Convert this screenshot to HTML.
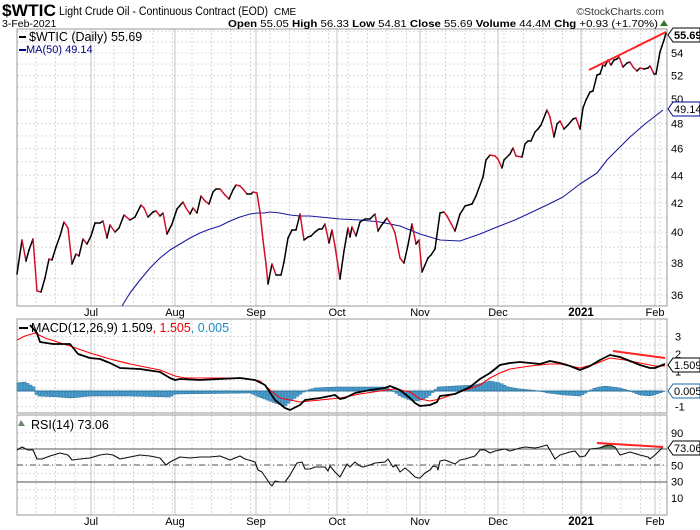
<!DOCTYPE html>
<html><head><meta charset="utf-8"><style>
html,body{margin:0;padding:0;background:#fff;}
svg{display:block;font-family:"Liberation Sans",sans-serif;}
</style></head><body>
<svg id="s" width="700" height="530" viewBox="0 0 700 530" xmlns="http://www.w3.org/2000/svg">
<rect width="700" height="530" fill="#fff"/>
<g id="grid"></g>
<!-- header -->
<text x="2" y="16" font-size="17" font-weight="bold" textLength="54" lengthAdjust="spacingAndGlyphs">$WTIC</text>
<text x="59" y="15" font-size="11.5" textLength="209" lengthAdjust="spacingAndGlyphs">Light Crude Oil - Continuous Contract (EOD)</text>
<text x="274" y="15" font-size="10">CME</text>
<text x="664" y="15" font-size="10.5" text-anchor="end" fill="#333">©StockCharts.com</text>
<text x="2" y="27" font-size="10.5">3-Feb-2021</text>
<text x="228" y="27" font-size="10.5" textLength="430" lengthAdjust="spacingAndGlyphs"><tspan font-weight="bold">Open</tspan> 55.05 <tspan font-weight="bold">High</tspan> 56.33 <tspan font-weight="bold">Low</tspan> 54.81 <tspan font-weight="bold">Close</tspan> 55.69 <tspan font-weight="bold">Volume</tspan> 44.4M <tspan font-weight="bold">Chg</tspan> +0.93 (+1.70%)</text>
<polygon points="660,26 664,20 668,26" fill="#2a7a2a"/>
<g id="plots"></g>
<!-- legends -->
<rect x="19" y="36" width="7" height="2" fill="#000"/>
<text x="29" y="41" font-size="12.5">$WTIC (Daily) 55.69</text>
<rect x="19" y="49" width="7" height="2" fill="#00008b"/>
<text x="26" y="53" font-size="11" fill="#00008b">MA(50) 49.14</text>
<rect x="19" y="327" width="9" height="2" fill="#000"/>
<text x="31" y="332" font-size="12.5">MACD(12,26,9) 1.509<tspan fill="#e00">, 1.505</tspan><tspan fill="#1a8ac8">, 0.005</tspan></text>
<polygon points="18,426 21,420 25,426" fill="#6a8a6a"/>
<text x="31" y="429" font-size="12.5">RSI(14) 73.06</text>
</svg>
<script>
const NS="http://www.w3.org/2000/svg";
const g=document.getElementById('grid'),p=document.getElementById('plots');
function el(par,t,a,txt){const e=document.createElementNS(NS,t);for(const k in a)e.setAttribute(k,a[k]);if(txt!=null)e.textContent=txt;par.appendChild(e);return e;}
const L=17,R=667;
const panels=[[29,306],[319,413],[415,515]];
const months=[[91,'Jul'],[175,'Aug'],[256,'Sep'],[337,'Oct'],[420,'Nov'],[498,'Dec'],[581,'2021'],[655,'Feb']];
for(let x=L+19;x<R;x+=19.5){panels.forEach(([t,b])=>el(g,'line',{x1:x,y1:t,x2:x,y2:b,stroke:'#d8d8d8','stroke-dasharray':'2,2','stroke-width':1}));}
const ly=v=>53+(Math.log(54)-Math.log(v))*597;
const hm=[];for(let v=36;v<=56;v+=1)hm.push(ly(v));
hm.forEach(y=>el(g,'line',{x1:L,y1:y,x2:R,y2:y,stroke:'#dcdcdc','stroke-dasharray':'2,2'}));
const macY=v=>389-v*17.5;
for(let v=-1;v<=3;v+=0.5)el(g,'line',{x1:L,y1:macY(v),x2:R,y2:macY(v),stroke:'#dcdcdc','stroke-dasharray':'2,2'});
const rY=v=>498-(v-10)*0.815;
for(let v=10;v<=90;v+=10)el(g,'line',{x1:L,y1:rY(v),x2:R,y2:rY(v),stroke:'#dcdcdc','stroke-dasharray':'2,2'});
months.forEach(([x,l])=>{panels.forEach(([t,b])=>el(g,'line',{x1:x,y1:t,x2:x,y2:b,stroke:'#c4c4c4'}));});
panels.forEach(([t,b])=>el(g,'rect',{x:L,y:t,width:R-L,height:b-t,fill:'none',stroke:'#999'}));
[[316],[525]].forEach(([y])=>months.forEach(([x,l])=>el(g,'text',{x:x,y:y,'font-size':l=='2021'?11.5:11,'font-weight':l=='2021'?'bold':'normal','text-anchor':'middle'},l)));
for(let v=36;v<=54;v+=2)el(g,'text',{x:671,y:ly(v)+4,'font-size':11},v);
[[3,3],[2,2],[1,1],[-1,-1]].forEach(([v,t])=>el(g,'text',{x:675,y:macY(v)+4,'font-size':11},t));
[90,50,30,10].forEach(v=>el(g,'text',{x:671,y:rY(v)+4,'font-size':11},v));
el(p,'line',{x1:L,y1:449,x2:R,y2:449,stroke:'#555'});
el(p,'line',{x1:L,y1:482,x2:R,y2:482,stroke:'#555'});
el(p,'line',{x1:L,y1:465,x2:R,y2:465,stroke:'#555','stroke-dasharray':'6,3,1,3'});
function pl(pts,c,w){el(p,'polyline',{points:pts.map(q=>q.join(',')).join(' '),fill:'none',stroke:c,'stroke-width':w,'stroke-linejoin':'round'});}
const hk=[[17,-8],[25,-9],[34,-4],[37,5],[60,6],[70,7],[90,5],[130,5],[170,6],[175,3],[250,2],[262,7],[275,12],[285,15],[295,7],[305,0],[315,-3],[335,-4],[365,-4],[385,-4],[392,-1],[400,5],[410,9],[418,10],[428,6],[438,-4],[455,-5],[475,-6],[490,-10],[500,-8],[508,-4],[520,-2],[540,0],[548,2],[565,4],[580,5],[595,-3],[605,-5],[620,-3],[630,0],[640,4],[650,5],[660,2],[663,0]];
function interp(k,x){for(let i=0;i<k.length-1;i++){if(x>=k[i][0]&&x<=k[i+1][0]){const t=(x-k[i][0])/(k[i+1][0]-k[i][0]);return k[i][1]+t*(k[i+1][1]-k[i][1]);}}return 0;}
for(let x=17;x<663;x+=3){const h=interp(hk,x+1.5);const y0=391;el(p,'rect',{x:x,y:Math.min(y0,y0+h),width:3,height:Math.max(0.5,Math.abs(h)),fill:'#4d9fcf',stroke:'#2b6f9a','stroke-width':0.5});}
el(p,'line',{x1:L,y1:391,x2:663,y2:391,stroke:'#2b6f9a','stroke-width':1});
const sig=[[17,340],[25,336],[35,333],[45,338],[70,346],[90,353],[110,359],[130,364],[160,370],[175,376],[185,378],[240,378],[260,381],[270,390],[280,398],[300,402],[320,400],[340,398],[360,394],[380,391],[395,389],[410,392],[420,399],[430,401],[440,399],[460,392],[480,385],[490,378],[500,373],[510,369],[530,366],[550,364],[560,364],[580,368],[595,364],[610,358],[625,360],[640,363],[655,366],[665,366]];
const mac=[[30,325],[37,333],[40,342],[53,344],[70,344],[78,354],[90,358],[100,359],[110,363],[120,368],[140,369],[160,372],[170,378],[175,380],[180,379],[200,380],[220,379],[240,378],[255,380],[265,385],[275,400],[285,408],[290,410],[300,405],[305,400],[320,398],[330,396],[335,395],[340,399],[345,398],[355,393],[370,390],[385,388],[390,386],[400,390],[410,398],[415,403],[420,406],[430,405],[437,402],[440,396],[455,394],[470,387],[480,379],[490,373],[500,365],[510,363],[520,362],[540,364],[550,361],[560,363],[570,366],[580,370],[590,366],[600,360],[610,355],[620,357],[630,361],[640,365],[650,368],[655,368],[665,364]];
pl(sig,'#f00',1.1);pl(mac,'#000',1.8);
el(p,'line',{x1:613,y1:351,x2:665,y2:358,stroke:'#f22','stroke-width':2});
const rsi=[[17,450],[22,447],[28,450],[33,450],[37,459],[42,459],[50,456],[60,453],[68,455],[72,460],[80,459],[90,458],[100,455],[107,454],[113,455],[120,459],[130,457],[140,455],[150,456],[160,458],[166,465],[170,462],[180,457],[190,458],[200,457],[210,457],[220,456],[230,460],[240,456],[245,459],[252,461],[255,462],[258,470],[262,472],[270,484],[272,486],[275,481],[280,482],[285,482],[290,475],[297,463],[302,462],[305,469],[310,469],[315,467],[325,467],[328,471],[330,466],[335,472],[340,477],[347,464],[350,467],[355,462],[360,466],[363,467],[370,465],[375,463],[385,462],[388,459],[393,467],[396,465],[400,472],[405,468],[410,472],[415,477],[418,478],[420,478],[425,473],[430,470],[433,466],[437,467],[438,470],[440,461],[445,460],[455,464],[460,460],[465,459],[475,456],[480,450],[485,450],[490,453],[495,451],[500,450],[505,449],[510,451],[520,448],[525,447],[535,448],[540,447],[547,445],[555,459],[560,455],[570,452],[575,451],[580,457],[585,456],[590,449],[600,448],[605,446],[610,445],[615,447],[620,455],[630,452],[640,455],[648,457],[650,459],[655,455],[663,447]];
el(p,'polygon',{points:'594,449 600,447 605,445 610,444 615,447 618,449',fill:'#6a8a6a'});
pl(rsi,'#111',1.1);
el(p,'line',{x1:597,y1:443,x2:663,y2:447,stroke:'#f22','stroke-width':2});
const ma=[[122,306],[130,293],[140,280],[150,268],[160,258],[170,250],[180,244],[190,238],[200,233],[210,229],[220,226],[230,221],[240,217],[250,214],[258,213],[264,213],[270,212],[280,213],[290,215],[300,216],[310,216],[320,217],[330,218],[340,219],[360,220],[380,222],[400,226],[420,234],[440,240],[460,241],[480,234],[497,227],[515,220],[530,213],[547,205],[563,197],[580,184],[597,173],[607,160],[620,147],[630,137],[645,124],[663,110]];
pl(ma,'#1a1aa0',1.1);
const pr=[[17,274],[22,240],[26,261],[29,250],[33,239],[37,291],[41,292],[45,278],[49,259],[52,260],[56,247],[60,236],[64,222],[68,228],[72,264],[76,254],[79,256],[83,239],[87,244],[91,236],[95,223],[100,223],[103,221],[107,238],[110,225],[115,232],[119,228],[124,215],[130,220],[135,217],[141,205],[144,208],[148,217],[153,212],[156,211],[160,216],[163,213],[167,234],[172,224],[177,209],[183,202],[186,208],[190,214],[193,208],[197,213],[201,196],[205,201],[209,204],[213,192],[216,189],[220,189],[225,195],[229,199],[233,190],[236,185],[240,186],[243,189],[247,194],[251,194],[253,192],[257,193],[260,212],[263,240],[266,264],[268,284],[272,264],[276,275],[281,275],[284,262],[288,238],[292,230],[296,230],[300,214],[304,240],[308,237],[311,236],[315,232],[319,229],[322,229],[325,224],[329,243],[332,230],[335,246],[340,279],[344,251],[348,228],[350,237],[352,227],[356,236],[360,222],[365,219],[370,219],[375,214],[378,231],[381,226],[387,218],[392,226],[395,233],[400,258],[404,263],[408,245],[412,224],[416,244],[419,240],[422,272],[428,258],[431,255],[435,249],[440,213],[444,212],[447,216],[455,231],[460,214],[462,211],[465,206],[472,204],[476,196],[483,177],[486,160],[490,155],[495,156],[498,159],[502,168],[504,160],[510,154],[513,148],[516,156],[522,157],[525,144],[528,141],[531,141],[535,132],[538,129],[541,125],[543,120],[547,110],[550,117],[554,137],[557,124],[560,121],[564,129],[568,125],[573,119],[576,118],[580,129],[583,108],[586,100],[590,92],[593,91],[597,75],[600,74],[603,65],[605,66],[608,60],[611,65],[614,60],[617,59],[619,57],[623,67],[627,63],[630,62],[633,67],[637,71],[640,68],[644,69],[648,68],[650,66],[654,74],[656,74],[660,52],[664,40],[666,33]];
for(let i=0;i<pr.length-1;i++){const a=pr[i],b=pr[i+1];el(p,'line',{x1:a[0],y1:a[1],x2:b[0],y2:b[1],stroke:b[1]>a[1]?'#d0102a':'#000','stroke-width':1.5,'stroke-linecap':'round'});}
el(p,'line',{x1:589,y1:70,x2:666,y2:32,stroke:'#f22','stroke-width':2});
function tag(y,txt,col,bold){el(p,'polygon',{points:`668,${y} 673,${y-7} 700,${y-7} 700,${y+7} 673,${y+7}`,fill:'#fff',stroke:col,'stroke-width':1});el(p,'text',{x:674,y:y+4,'font-size':11,'font-weight':bold?'bold':'normal'},txt);}
tag(35,'55.69','#000',true);tag(109,'49.14','#00008b');tag(365,'1.509','#000');tag(391,'0.005','#1a6aa8');tag(448,'73.06','#000');
</script>
</body></html>
